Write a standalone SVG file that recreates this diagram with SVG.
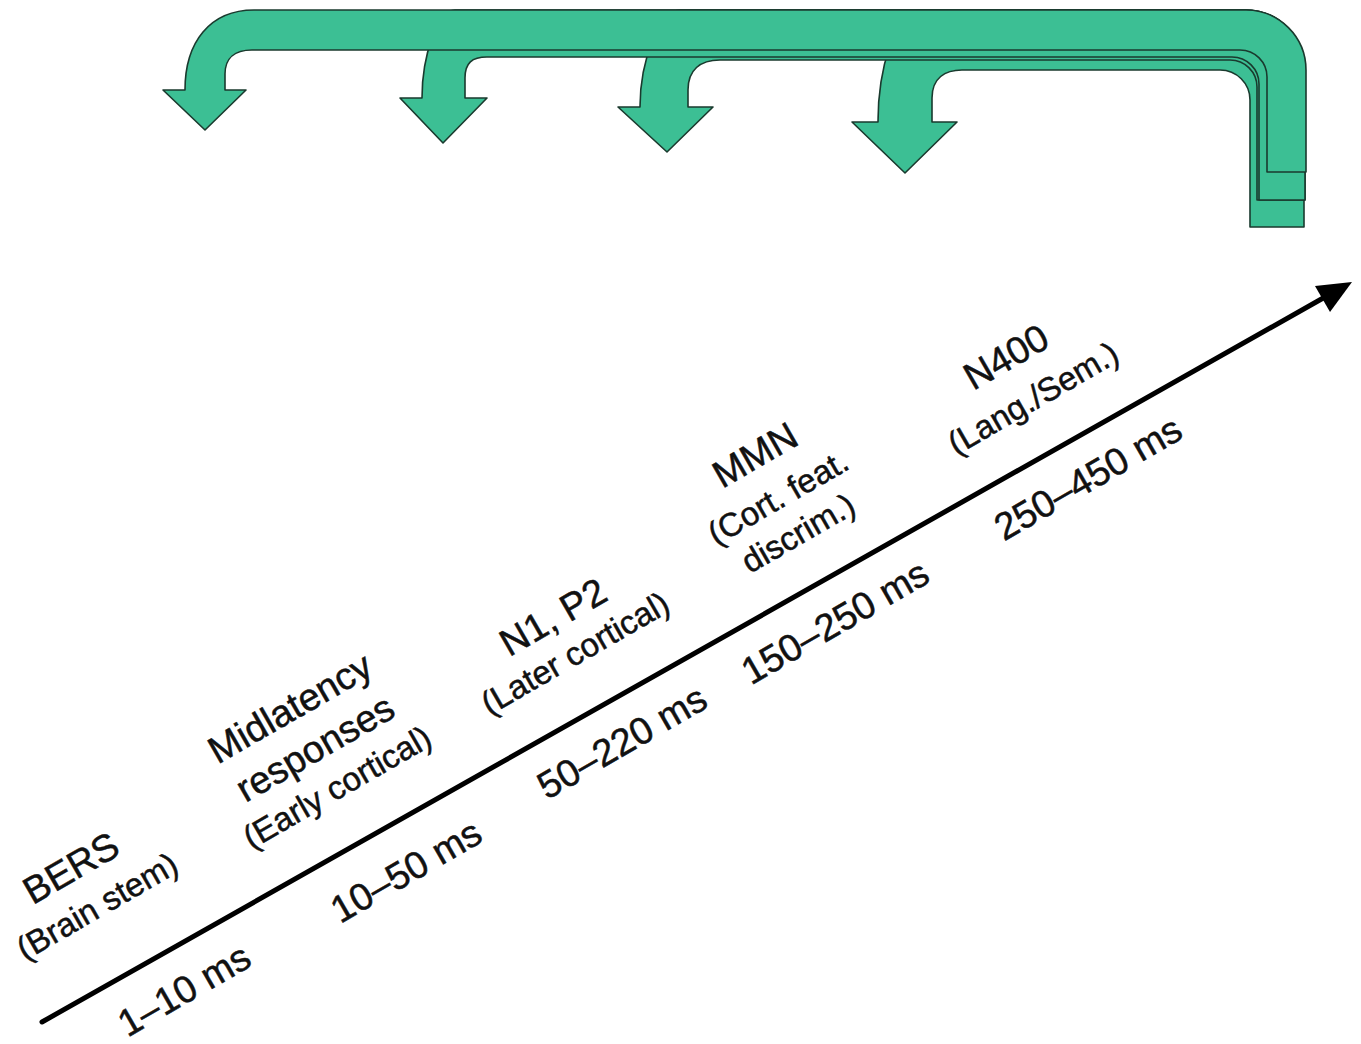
<svg xmlns="http://www.w3.org/2000/svg" width="1361" height="1044" viewBox="0 0 1361 1044">
<style>
.band{fill:#3cbf94;stroke:#1a3a2e;stroke-width:1.6;stroke-linejoin:round}
.t{font-family:"Liberation Sans",Arial,sans-serif;fill:#111;stroke:#111;stroke-width:0.5;text-anchor:middle;dominant-baseline:central}
.m{font-size:38px}
.s{font-size:33px}
</style>
<rect width="1361" height="1044" fill="#ffffff"/>
<g id="feedback-arrows">
<g id="arrow-n400">
<path class="band" d="M1304,227 L1304,70 A60,60 0 0 0 1244,10 L920,10 C895,10 878,70 878,122 L852,122 L905,173 L957,122 L932,122 L932,98 C932,78 945,70 962,70 L1220,70 A30,30 0 0 1 1250,100 L1250,227 Z"/>
</g>
<g id="arrow-mmn">
<path class="band" d="M1305,200 L1305,70 A60,60 0 0 0 1245,10 L680,10 C660,10 640,60 640,107 L618,107 L667,152 L713,107 L688,107 L688,90 C688,70 700,60 720,60 L1230,60 A27,27 0 0 1 1257,87 L1257,200 Z"/>
</g>
<g id="arrow-n1p2">
<path class="band" d="M1305,200 L1305,70 A60,60 0 0 0 1245,10 L455,10 C438,10 422,55 422,98 L400,98 L443,143 L487,98 L465,98 L465,78 C465,63 472,57 487,57 L1232,57 A27,27 0 0 1 1259,84 L1259,200 Z"/>
</g>
<g id="arrow-bers">
<path class="band" d="M1306,172 L1306,70 A60,60 0 0 0 1246,10 L254,10 C210,10 185,42 185,90 L163,90 L205,130 L246,90 L225,90 L225,74 C225,58 235,50 252,50 L1240,50 A27,27 0 0 1 1267,77 L1267,172 Z"/>
</g>
</g>
<g id="connectors">
<line x1="42" y1="1022" x2="1325" y2="297" stroke="#000" stroke-width="5" stroke-linecap="round"/>
<polygon points="1352,282 1330,312 1315,286" fill="#000"/>
</g>
<g id="node-bers">
<text class="t m" transform="translate(71,868) rotate(-30)">BERS</text>
<text class="t s" transform="translate(97,906) rotate(-30)">(Brain stem)</text>
<text class="t m" transform="translate(184,990) rotate(-30)">1–10 ms</text>
</g>
<g id="node-midlatency">
<text class="t m" transform="translate(290,708) rotate(-30)">Midlatency</text>
<text class="t m" transform="translate(315,748) rotate(-30)">responses</text>
<text class="t s" transform="translate(337,787) rotate(-30)">(Early cortical)</text>
<text class="t m" transform="translate(406,871) rotate(-30)">10–50 ms</text>
</g>
<g id="node-n1p2">
<text class="t m" transform="translate(553,617) rotate(-30)">N1, P2</text>
<text class="t s" transform="translate(575,653) rotate(-30)">(Later cortical)</text>
<text class="t m" transform="translate(622,742) rotate(-30)">50–220 ms</text>
</g>
<g id="node-mmn">
<text class="t m" transform="translate(755,455) rotate(-30)">MMN</text>
<text class="t s" transform="translate(778,497) rotate(-30)">(Cort. feat.</text>
<text class="t s" transform="translate(798,533) rotate(-30)">discrim.)</text>
<text class="t m" transform="translate(835,622) rotate(-30)">150–250 ms</text>
</g>
<g id="node-n400">
<text class="t m" transform="translate(1006,357) rotate(-30)">N400</text>
<text class="t s" transform="translate(1033,398) rotate(-30)">(Lang./Sem.)</text>
<text class="t m" transform="translate(1088,478) rotate(-30)">250–450 ms</text>
</g>
</svg>
